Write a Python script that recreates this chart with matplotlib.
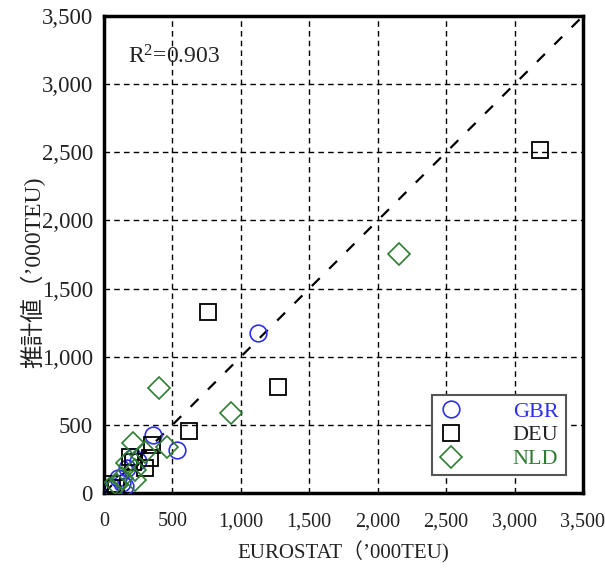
import matplotlib
matplotlib.use("Agg")
import matplotlib.pyplot as plt
from matplotlib.ticker import FuncFormatter, MultipleLocator

plt.rcParams['font.family'] = ['Liberation Serif', 'Noto Sans CJK JP']
plt.rcParams['mathtext.fontset'] = 'custom'
plt.rcParams['mathtext.rm'] = 'Liberation Serif'
plt.rcParams['mathtext.it'] = 'Liberation Serif:italic'

# Data ('000 TEU): EUROSTAT (x) vs estimated (y)
gbr_x = [1123, 360, 535, 210, 170, 130, 150, 60, 245, 100]
gbr_y = [1171, 425, 316, 265, 185, 70, 50, 45, 235, 110]

deu_x = [3186, 762, 1274, 624, 353, 336, 190, 300, 212, 55, 90]
deu_y = [2517, 1328, 775, 452, 352, 254, 262, 181, 230, 64, 40]

nld_x = [2155, 402, 928, 458, 214, 166, 226, 226, 40, 130, 300, 95]
nld_y = [1753, 768, 585, 335, 364, 218, 169, 95, 30, 110, 300, 60]

r2_text = r"R$^\mathrm{2}$=0.903"
xlabel = "EUROSTAT（’000TEU)"
ylabel = "推計値（’000TEU)"

fig = plt.figure(figsize=(6.05, 5.72), dpi=100)
ax = fig.add_axes([0.1719, 0.1381, 0.7917, 0.8339])

ax.set_xlim(0, 3500)
ax.set_ylim(0, 3500)
ax.xaxis.set_major_locator(MultipleLocator(500))
ax.yaxis.set_major_locator(MultipleLocator(500))
fmt = FuncFormatter(lambda v, p: f"{int(v):,}")
ax.xaxis.set_major_formatter(fmt)
ax.yaxis.set_major_formatter(fmt)

ax.grid(True, color='black', linestyle=(0, (4, 3)), linewidth=1.0)
ax.set_axisbelow(True)

ax.plot([0, 3500], [0, 3500], color='black', linestyle=(0, (5, 6)), linewidth=1.6, zorder=2)

blue = '#3030e8'
green = '#2e7d32'
ax.plot(gbr_x, gbr_y, linestyle='none', marker='o', markersize=12, markerfacecolor='none',
        color=blue, markeredgecolor=blue, markeredgewidth=1.2, label='GBR', zorder=3)
ax.plot(deu_x, deu_y, linestyle='none', marker='s', markersize=11.5, markerfacecolor='none',
        color='#222222', markeredgecolor='black', markeredgewidth=1.3, label='DEU', zorder=3)
ax.plot(nld_x, nld_y, linestyle='none', marker='D', markersize=11, markerfacecolor='none',
        color=green, markeredgecolor=green, markeredgewidth=1.2, label='NLD', zorder=3)

for s in ax.spines.values():
    s.set_linewidth(2.5)
    s.set_color('black')

ax.tick_params(axis='both', length=0, colors='#222222', pad=8)
ax.tick_params(axis='y', labelsize=16.5)
ax.tick_params(axis='x', labelsize=14.5, pad=14)

ax.set_xlabel(xlabel, fontsize=15, color='#222222', labelpad=7)
ax.set_ylabel(ylabel, fontsize=17, color='#222222')
ax.yaxis.set_label_coords(-0.122, 0.463)

ax.text(175, 3200, r2_text, fontsize=17, va='center', ha='left', color='#222222')

leg = ax.legend(loc='lower left', bbox_to_anchor=(0.684, 0.038, 0.28, 0.172), mode='expand',
                borderaxespad=0, fancybox=False, shadow=False, fontsize=16,
                labelcolor='linecolor', handlelength=1.2, handletextpad=2.2,
                borderpad=0.25, labelspacing=0.15, framealpha=1)
leg.get_frame().set_edgecolor('#555555')
leg.get_frame().set_linewidth(1.5)

fig.savefig('out.png', dpi=100)
